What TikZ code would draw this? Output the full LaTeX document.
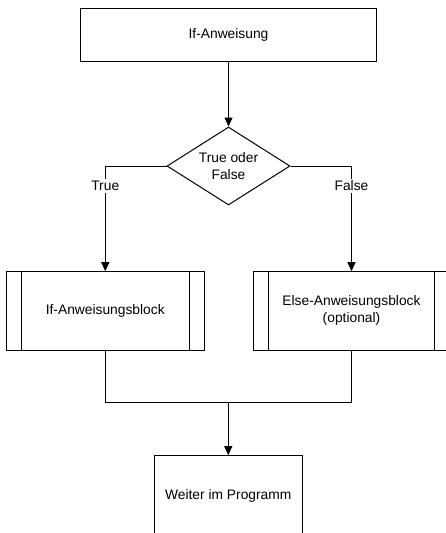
\documentclass[tikz,border=0pt]{standalone}
\usepackage{fontspec}
\setmainfont{Liberation Sans}
\usetikzlibrary{shapes.geometric,arrows.meta}
\begin{document}
\begin{tikzpicture}[x=1pt,y=-1pt,
  font=\fontsize{13.8}{17}\selectfont,
  line width=1pt,
  box/.style={draw, rectangle, inner sep=0pt, align=center},
  subproc/.style={box, path picture={
      \draw ([xshift=15pt]path picture bounding box.north west) -- ([xshift=15pt]path picture bounding box.south west);
      \draw ([xshift=-15pt]path picture bounding box.north east) -- ([xshift=-15pt]path picture bounding box.south east);}},
  decision/.style={draw, diamond, aspect=1.577, inner sep=0pt, align=center, minimum width=123pt, minimum height=78pt},
  lbl/.style={fill=white, inner sep=2pt},
  flow/.style={-{Triangle[length=9pt,width=8pt]}}
]
\useasboundingbox (0,0) rectangle (446,533);
\clip (0,0) rectangle (446,533);

% boxes
\node[box, minimum width=296pt, minimum height=53pt] (start) at (228.5,34.5) {If-Anweisung};
\node[decision] (dec) at (228.5,166) {True oder\\False};
\node[subproc, minimum width=197.5pt, minimum height=78.3pt] (ifblk) at (105.25,310.85) {If-Anweisungsblock};
\node[subproc, minimum width=196pt, minimum height=78.3pt] (elseblk) at (351.5,310.85) {Else-Anweisungsblock\\(optional)};
\node[box, minimum width=148.5pt, minimum height=80pt] (cont) at (228.25,495.7) {Weiter im Programm};

% connectors
\draw[flow] (start) -- (dec);
\draw[flow] (dec.west) -| (ifblk.north);
\draw[flow] (dec.east) -| (elseblk.north);
\coordinate (merge) at (228.25,402.7);
\draw (ifblk.south) |- (merge) -| (elseblk.south);
\draw[flow] (merge) -- (cont.north);

% branch labels
\node[lbl] (tlbl) at (105.25,186) {True};
\node[lbl] (flbl) at (351.5,186) {False};
\end{tikzpicture}
\end{document}
